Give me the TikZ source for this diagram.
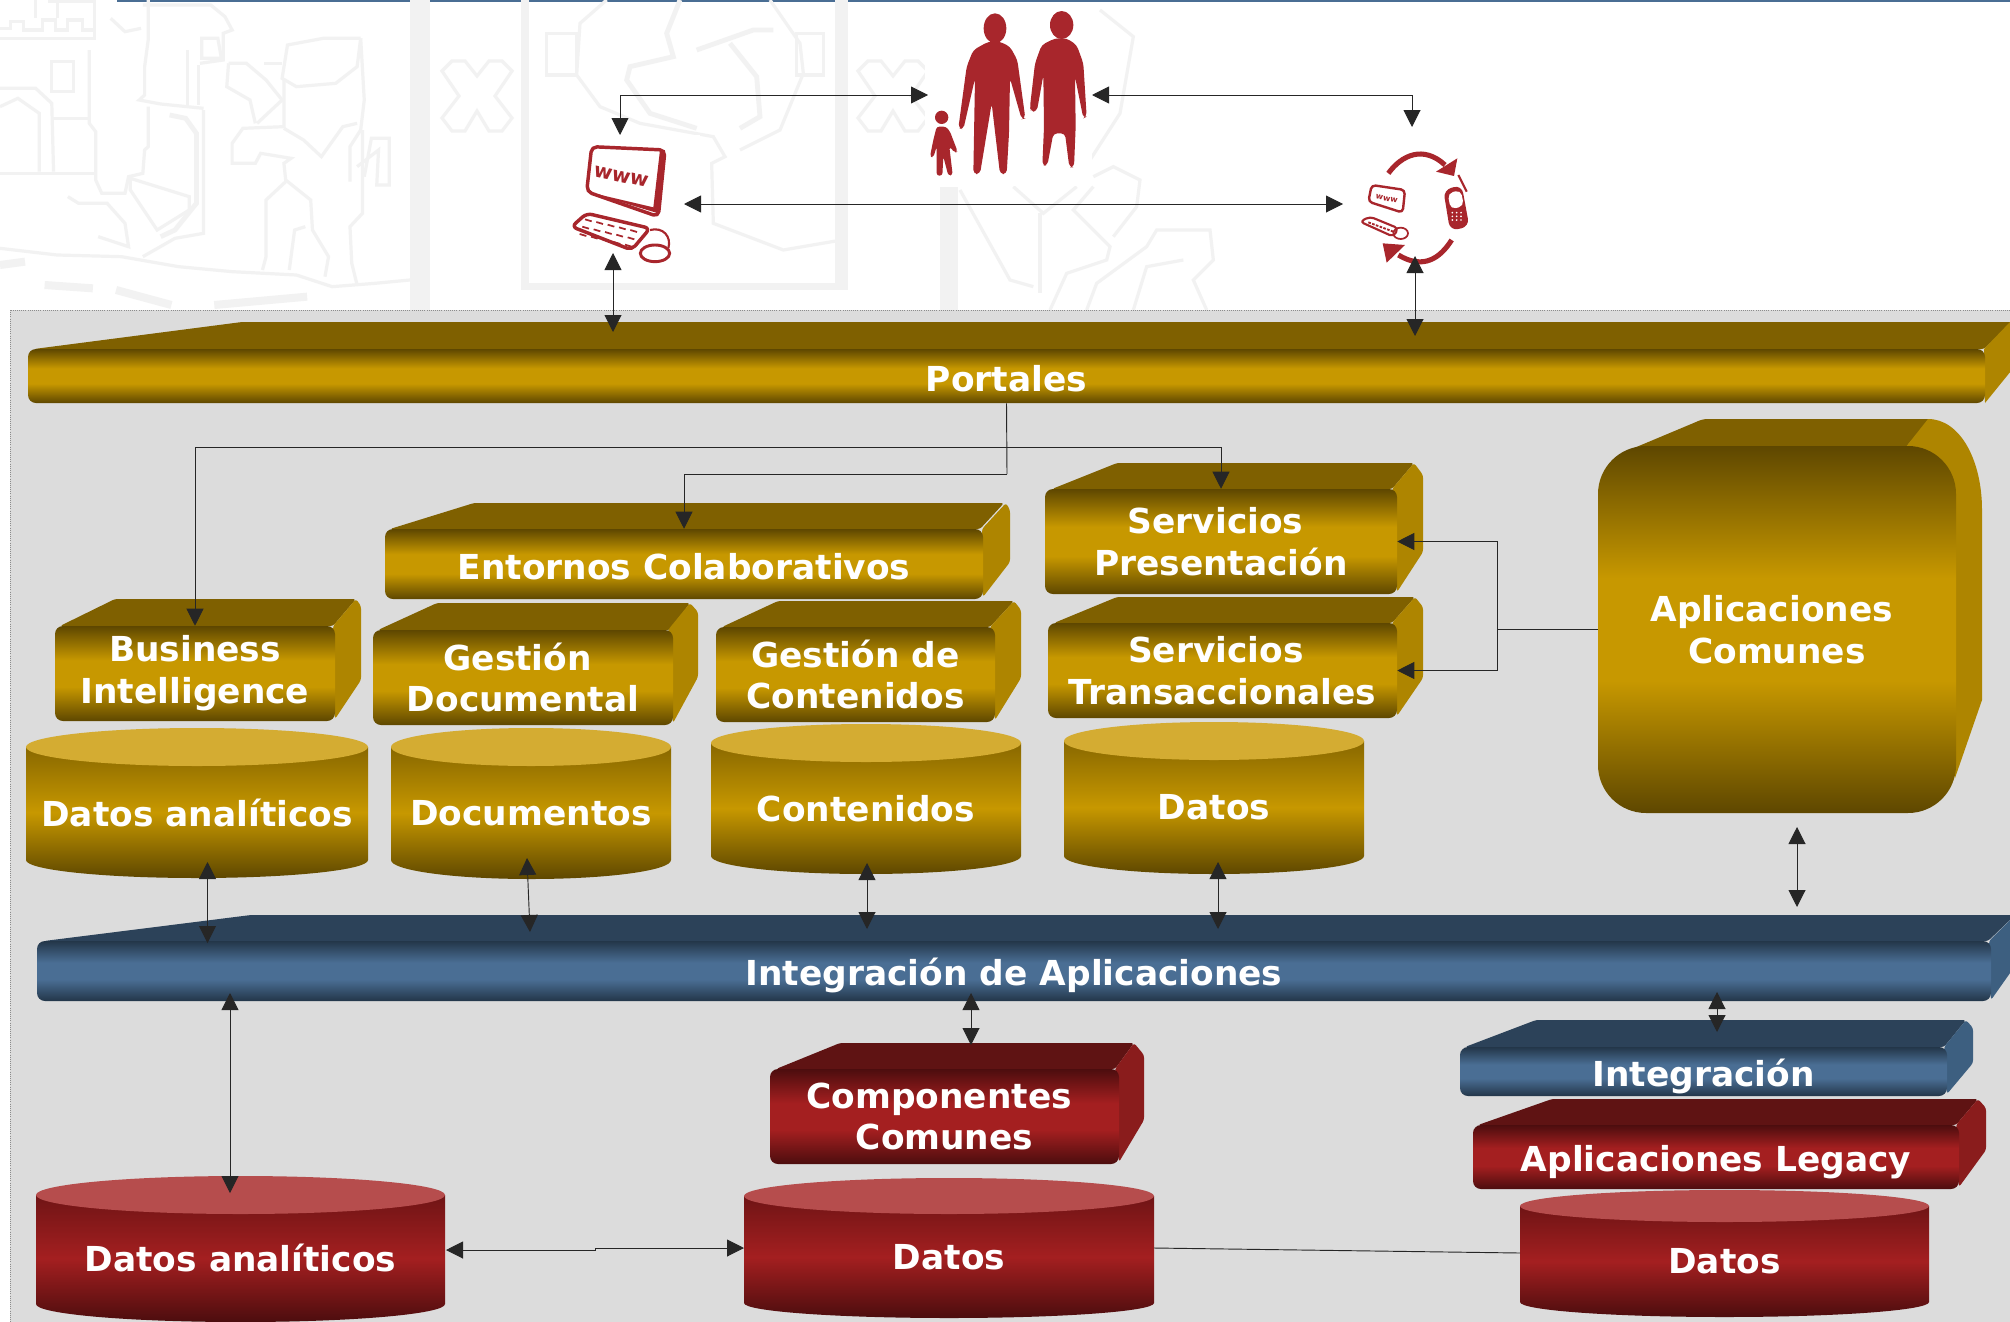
\documentclass[tikz,border=0pt]{standalone}
\usepackage{fontspec}
\setmainfont{DejaVu Sans}
\usepackage{xcolor}
\usetikzlibrary{arrows.meta}
\usetikzlibrary{calc}

\definecolor{golddark}{HTML}{5E4700}
\definecolor{goldmid}{HTML}{C79800}
\definecolor{goldtop}{HTML}{7F6000}
\definecolor{goldside}{HTML}{AE8500}
\definecolor{goldlid}{HTML}{D4AC32}
\definecolor{bluedark}{HTML}{233649}
\definecolor{bluemid}{HTML}{4A6E94}
\definecolor{bluetop}{HTML}{2C4259}
\definecolor{blueside}{HTML}{3D5F80}
\definecolor{reddark}{HTML}{4C0D0E}
\definecolor{redmid}{HTML}{A41F20}
\definecolor{redtop}{HTML}{5F1313}
\definecolor{redside}{HTML}{8A1C1C}
\definecolor{redlid}{HTML}{B64D4D}
\definecolor{iconred}{HTML}{A8262C}
\definecolor{paneltone}{HTML}{DCDCDC}
\definecolor{watertone}{HTML}{F2F2F2}

\pgfdeclareverticalshading{goldband}{100bp}{color(0bp)=(golddark); color(25bp)=(golddark); color(43bp)=(goldmid); color(57bp)=(goldmid); color(75bp)=(golddark); color(100bp)=(golddark)}
\pgfdeclareverticalshading{blueband}{100bp}{color(0bp)=(bluedark); color(25bp)=(bluedark); color(43bp)=(bluemid); color(57bp)=(bluemid); color(75bp)=(bluedark); color(100bp)=(bluedark)}
\pgfdeclareverticalshading{redband}{100bp}{color(0bp)=(reddark); color(25bp)=(reddark); color(43bp)=(redmid); color(57bp)=(redmid); color(75bp)=(reddark); color(100bp)=(reddark)}

\tikzset{
  labeltext/.style={text=white,font=\fontsize{25.8}{31.3}\selectfont\bfseries,align=center,inner sep=0pt},
  goldbox/.style={labeltext,rounded corners=6pt,shade,shading=goldband,execute at begin node={\rule{0pt}{23.4pt}}},
  bluebox/.style={labeltext,rounded corners=6pt,shade,shading=blueband,execute at begin node={\rule{0pt}{27.3pt}}},
  redbox/.style={labeltext,rounded corners=6pt,shade,shading=redband,execute at begin node={\rule{0pt}{27.3pt}}},
  goldbody/.style={top color=golddark!60!goldmid,bottom color=golddark,middle color=goldmid},
  redbody/.style={top color=reddark!60!redmid,bottom color=reddark,middle color=redmid},
  face/.style={rounded corners=2pt},
  watermark/.style={draw=watertone,line width=2.4pt},
  iconstroke/.style={draw=iconred,line width=2.6pt,line join=round},
  wire/.style={line width=0.7pt,draw=black!85},
  linkone/.style={wire,-{Triangle[length=12.75pt,width=12.75pt]}},
  linkboth/.style={wire,{Triangle[length=12.75pt,width=12.75pt]}-{Triangle[length=12.75pt,width=12.75pt]}}
}

\begin{document}
\begin{tikzpicture}[x=0.75pt,y=0.75pt,yscale=-1,xscale=1]
\useasboundingbox (0,0) rectangle (2010,1321);
\clip (0,0) rectangle (2010,1321);
\fill[white] (0,0) rectangle (2010,1321);
\fill[bluemid] (117,0) rectangle (2010,1.5);

%Watermark, castle and lion
\begin{scope}[xscale=1/2.8,yscale=1/3]
\draw[watermark] (0,115) -- (265,115) -- (265,0);
\draw[watermark] (0,85) -- (30,85) -- (30,65) -- (65,65) -- (65,90) -- (120,90) -- (120,60) -- (155,60) -- (155,90) -- (190,90) -- (190,60) -- (230,60) -- (230,90) -- (262,90);
\draw[watermark] (100,0) -- (100,55); \draw[watermark] (160,5) -- (160,55); \draw[watermark] (135,3) -- (270,3);
\draw[watermark] (250,150) -- (250,370) -- (268,395) -- (268,540) -- (285,580) -- (350,580) -- (360,530) -- (400,520) -- (405,450) -- (415,440) -- (415,320);
\draw[watermark] (145,185) rectangle (205,275);
\draw[watermark] (0,265) -- (100,265) -- (145,310) -- (150,515);
\draw[watermark] (0,320) -- (50,295) -- (110,340) -- (110,515);
\draw[watermark] (150,355) -- (250,355);
\draw[watermark] (0,520) -- (270,520);
\draw[watermark] (415,0) -- (415,120) -- (405,200) -- (405,285) -- (390,300) -- (450,312) -- (570,325);
\draw[watermark] (525,150) -- (525,315); \draw[watermark] (555,195) -- (555,315);
\draw[watermark] (310,55) -- (350,95) -- (395,85);
\draw[watermark] (400,15) -- (590,15) -- (630,50) -- (650,90) -- (625,100) -- (625,180) -- (560,190);
\draw[watermark] (565,115) -- (610,115) -- (620,175) -- (565,175) -- cycle;
\draw[watermark,line width=3.6pt] (475,345) -- (520,355) -- (550,400) -- (550,610) -- (490,690) -- (450,710);
\draw[watermark] (570,330) -- (570,700) -- (490,715) -- (400,770);
\draw[watermark] (190,590) -- (220,610) -- (300,610) -- (350,670) -- (360,740) -- (275,710);
\draw[watermark] (365,535) -- (530,590) -- (530,630) -- (440,690) -- (365,570) -- cycle;
\draw[watermark] (0,745) -- (160,765) -- (340,770) -- (500,800) -- (650,815) -- (830,825) -- (930,860) -- (1050,850) -- (1148,840);
\draw[watermark,line width=6pt] (0,795) -- (70,785);
\draw[watermark,line width=6pt] (125,855) -- (260,865);
\draw[watermark,line width=6pt] (325,870) -- (480,915);
\draw[watermark,line width=6pt] (600,915) -- (860,890);
\draw[watermark] (1010,115) -- (905,115) -- (805,135) -- (790,235) -- (830,260) -- (940,250) -- (1000,200) -- (1010,115);
\draw[watermark] (1010,115) -- (1020,300) -- (1010,390) -- (980,440) -- (980,545);
\draw[watermark] (740,190) -- (790,190);
\draw[watermark] (795,240) -- (795,380) -- (680,385) -- (650,430) -- (650,490) -- (715,490) -- (730,460) -- (815,475) -- (795,490) -- (800,540) -- (870,600) -- (875,690) -- (920,770) -- (910,830);
\draw[watermark] (640,190) -- (690,190) -- (745,240) -- (790,300) -- (720,370);
\draw[watermark] (640,190) -- (635,260) -- (700,300) -- (715,370);
\draw[watermark] (1015,390) -- (1015,640) -- (980,680) -- (985,790) -- (1000,855);
\draw[watermark] (795,385) -- (850,420) -- (900,470) -- (960,380) -- (1000,370);
\draw[watermark] (1020,530) -- (1040,415) -- (1090,415) -- (1090,555) -- (1055,555) -- (1060,450) -- (1000,500);
\draw[watermark] (800,545) -- (745,600) -- (745,770) -- (735,810);
\draw[watermark] (810,810) -- (825,690) -- (855,680); 
\fill[watertone] (1148,0) rectangle (1203,930);
\end{scope}

%Watermark, frame and shield
\fill[watertone] (521,0) rectangle (529,290);
\fill[watertone] (521,283) rectangle (848,290);
\fill[watertone] (835,0) rectangle (848,290);
\foreach \xmark in {477,893}
  \draw[watermark,shift={(\xmark,96)}] (-35,-25) -- (-25,-35) -- (-12,-35) -- (0,-20) -- (12,-35) -- (25,-35) -- (35,-25) -- (18,0) -- (35,22) -- (25,35) -- (12,35) -- (0,15) -- (-12,35) -- (-25,35) -- (-35,22) -- (-18,0) -- cycle;
\begin{scope}[shift={(540,0)},scale=1/3]
\draw[watermark] (20,100) rectangle (110,225);
\draw[watermark] (770,100) rectangle (850,225);
\draw[watermark] (200,0) -- (120,70) -- (110,225) -- (180,320) -- (300,370) -- (520,410) -- (555,470) -- (515,490) -- (520,670) -- (730,750) -- (905,720);
\draw[watermark] (690,0) -- (780,130) -- (790,220) -- (720,390) -- (600,450);
\draw[watermark,line width=3.6pt] (420,0) -- (380,100) -- (400,170) -- (270,200) -- (260,240) -- (330,340) -- (470,385);
\draw[watermark,line width=3.6pt] (470,150) -- (640,90) -- (700,90);
\draw[watermark,line width=3.6pt] (570,130) -- (650,230) -- (660,350) -- (600,385);
\end{scope}

%Watermark, leaves
\begin{scope}[shift={(900,170)},scale=1/3]
\fill[watertone] (120,50) rectangle (175,420);
\draw[watermark] (180,60) -- (330,330) -- (400,350);
\draw[watermark] (340,50) -- (430,130) -- (530,50);
\draw[watermark] (420,130) -- (420,370);
\draw[watermark] (580,50) -- (520,120) -- (630,230) -- (620,270) -- (500,310) -- (450,420);
\draw[watermark] (580,20) -- (640,-10) -- (720,30) -- (710,110) -- (640,200);
\draw[watermark] (560,420) -- (590,340) -- (740,230) -- (770,180) -- (930,180) -- (940,270) -- (880,330) -- (920,420);
\draw[watermark] (700,420) -- (740,290) -- (850,270);
\draw[watermark] (570,-30) -- (660,-170) -- (700,-400) -- (600,-480);
\end{scope}

%People
\fill[white] (925,3) rectangle (1092,186);
\begin{scope}[shift={(910,0)},scale=1/3]
\fill[iconred] (255,85) ellipse [x radius=34,y radius=45];
\fill[iconred,rounded corners=3pt] (235,125) -- (190,150) -- (170,200) -- (145,385) -- (160,388) -- (195,235) -- (190,522) -- (210,522) -- (245,310) -- (270,522) -- (290,522) -- (297,400) -- (300,235) -- (335,358) -- (346,355) -- (322,180) -- (300,140) -- (270,125) -- cycle;
\fill[iconred] (455,75) ellipse [x radius=35,y radius=42];
\fill[iconred,rounded corners=3pt] (435,115) -- (395,135) -- (375,190) -- (360,320) -- (362,335) -- (380,335) -- (385,310) -- (400,225) -- (402,380) -- (397,497) -- (412,497) -- (430,400) -- (465,400) -- (478,502) -- (492,502) -- (497,380) -- (495,230) -- (520,355) -- (530,350) -- (520,190) -- (500,135) -- (470,115) -- cycle;
\fill[iconred] (95,352) circle [radius=20];
\fill[iconred,rounded corners=2pt] (80,380) -- (70,420) -- (60,470) -- (70,472) -- (80,440) -- (80,527) -- (97,527) -- (100,470) -- (115,527) -- (128,525) -- (118,440) -- (135,458) -- (143,455) -- (120,395) -- (108,380) -- cycle;
\end{scope}

%Computer
\fill[white] (555,135) rectangle (700,282);
\begin{scope}[shift={(540,0)},scale=1/3]
\draw[iconstroke,rounded corners=4pt] (155,440) -- (375,450) -- (355,650) -- (140,575) -- cycle;
\fill[iconred] (140,575) -- (355,640) -- (375,450) -- (360,450) -- (340,622) -- cycle;
\node (wwwtext) [text=iconred,font=\fontsize{15}{15}\selectfont\bfseries,rotate=-12,inner sep=0pt] at (243,530) {www};
\draw[iconstroke,rounded corners=4pt] (95,680) -- (140,640) -- (330,685) -- (275,750) -- cycle;
\foreach \row in {0,1,2} \foreach \col in {0,1,2,3,4}
  \draw[iconred,line width=1.3pt] ({135+\col*34-\row*8},{658+\col*8+\row*22}) -- ++(20,6);
\draw[iconstroke,line width=1.6pt] (330,690) .. controls (370,680) and (395,710) .. (385,745);
\draw[iconstroke,line width=2.2pt] (345,760) ellipse [x radius=44,y radius=25];
\end{scope}

%Mobile exchange
\fill[white] (1350,140) rectangle (1480,275);
\begin{scope}[shift={(1330,130)},scale=1/3]
\draw[iconstroke,line width=3.8pt] (175,130) .. controls (215,75) and (280,45) .. (345,105);
\fill[iconred] (382,85) -- (372,138) -- (318,125) -- cycle;
\draw[iconstroke,line width=1.8pt,rounded corners=3pt] (125,165) -- (225,180) -- (218,248) -- (115,215) -- cycle;
\node (wwwsmall) [text=iconred,font=\fontsize{6}{6}\selectfont\bfseries,rotate=-12,inner sep=0pt] at (170,207) {www};
\draw[iconstroke,line width=1.6pt,rounded corners=3pt] (90,275) -- (120,260) -- (205,295) -- (190,320) -- cycle;
\draw[iconred,line width=1.4pt,dash pattern=on 2pt off 1pt] (115,277) -- (190,305);
\draw[iconstroke,line width=1.3pt] (212,310) ellipse [x radius=22,y radius=17];
\fill[iconred,rounded corners=6pt] (340,180) -- (395,165) -- (418,290) -- (360,302) -- cycle;
\fill[white,rounded corners=4pt] (353,190) -- (392,180) -- (402,228) -- (362,238) -- cycle;
\draw[iconstroke,line width=1.6pt] (385,135) -- (410,185);
\foreach \row in {0,1,2} \foreach \col in {0,1,2}
  \fill[white] ({367+\col*13},{248+\row*11}) circle [radius=2.8];
\draw[iconstroke,line width=3.8pt] (365,330) .. controls (330,385) and (280,420) .. (205,375);
\fill[iconred] (158,340) -- (225,345) -- (170,398) -- cycle;
\end{scope}

%Panel
\draw[draw=black!45,densely dotted,line width=0.6pt,fill=paneltone] (10,310) rectangle (2020,1330);

%Gold faces
\fill[goldtop,face] (34,349) -- (242,322) -- (2012,322) -- (1984,349) -- cycle;
\fill[goldside] (1984,349) -- (2010,322) -- (2015,322) -- (2015,366) -- (1985,403) -- cycle;
\fill[goldtop,face] (390,529) -- (474,503) -- (1004,503) -- (980,529) -- cycle;
\fill[goldside,face] (982,529) -- (1006,503) -- (1010,510) -- (1010,562) -- (983,597) -- cycle;
\fill[goldtop,face] (60,626) -- (115,599) -- (356,599) -- (333,626) -- cycle;
\fill[goldside,face] (333,626) -- (356,599) -- (361,606) -- (361,680) -- (335,719) -- cycle;
\fill[goldtop,face] (378,630) -- (437,603) -- (690,603) -- (670,630) -- cycle;
\fill[goldside,face] (668,630) -- (690,603) -- (698,612) -- (698,677) -- (673,723) -- cycle;
\fill[goldtop,face] (722,627) -- (778,601) -- (1014,601) -- (990,627) -- cycle;
\fill[goldside,face] (990,627) -- (1014,601) -- (1021,610) -- (1021,678) -- (995,720) -- cycle;
\fill[goldtop,face] (1052,489) -- (1117,463) -- (1414,463) -- (1392,489) -- cycle;
\fill[goldside,face] (1392,489) -- (1414,463) -- (1423,475) -- (1423,552) -- (1397,592) -- cycle;
\fill[goldtop,face] (1054,623) -- (1117,597) -- (1415,597) -- (1392,623) -- cycle;
\fill[goldside,face] (1392,623) -- (1415,597) -- (1423,607) -- (1423,678) -- (1397,716) -- cycle;
\fill[goldtop] (1634,448) -- (1696,422) .. controls (1700,420) and (1704,419) .. (1708,419) -- (1930,419) -- (1905,448) -- cycle;
\fill[goldside] (1905,448) -- (1928,419) .. controls (1960,419) and (1982,460) .. (1982,510) -- (1982,700) -- (1955,778) -- cycle;

%Blue faces
\fill[bluetop,face] (44,941) -- (251,915) -- (2015,915) -- (1988,941) -- cycle;
\fill[blueside,face] (1989,941) -- (2015,915) -- (2015,966) -- (1991,1000) -- cycle;
\fill[bluetop,face] (1465,1047) -- (1536,1020) -- (1966,1020) -- (1944,1047) -- cycle;
\fill[blueside,face] (1944,1047) -- (1966,1020) -- (1973,1028) -- (1973,1063) -- (1947,1094) -- cycle;

%Red faces
\fill[redtop,face] (776,1069) -- (840,1043) -- (1134,1043) -- (1115,1069) -- cycle;
\fill[redside,face] (1115,1069) -- (1134,1043) -- (1144,1055) -- (1144,1120) -- (1119,1162) -- cycle;
\fill[redtop,face] (1478,1125) -- (1552,1099) -- (1978,1099) -- (1956,1125) -- cycle;
\fill[redside,face] (1956,1125) -- (1978,1099) -- (1986,1108) -- (1986,1150) -- (1959,1187) -- cycle;

%Gold cylinders
\shade[goldbody] (26,747) -- (26,860) arc [start angle=180,end angle=0,x radius=171,y radius=18] -- (368,747) -- cycle;
\fill[goldlid] (197,747) ellipse [x radius=171,y radius=19];
\shade[goldbody] (391,747) -- (391,860) arc [start angle=180,end angle=0,x radius=140,y radius=19] -- (671,747) -- cycle;
\fill[goldlid] (531,747) ellipse [x radius=140,y radius=19];
\shade[goldbody] (711,743) -- (711,856) arc [start angle=180,end angle=0,x radius=155,y radius=18] -- (1021,743) -- cycle;
\fill[goldlid] (866,743) ellipse [x radius=155,y radius=19];
\shade[goldbody] (1064,741) -- (1064,856) arc [start angle=180,end angle=0,x radius=150,y radius=18] -- (1364,741) -- cycle;
\fill[goldlid] (1214,741) ellipse [x radius=150,y radius=19];

%Red cylinders
\shade[redbody] (36,1195) -- (36,1304) arc [start angle=180,end angle=0,x radius=204.5,y radius=18] -- (445,1195) -- cycle;
\fill[redlid] (240.5,1195) ellipse [x radius=204.5,y radius=19];
\shade[redbody] (744,1196) -- (744,1303) arc [start angle=180,end angle=0,x radius=205,y radius=15] -- (1154,1196) -- cycle;
\fill[redlid] (949,1196) ellipse [x radius=205,y radius=18];
\shade[redbody] (1520,1206) -- (1520,1302) arc [start angle=180,end angle=0,x radius=204.5,y radius=15] -- (1929,1206) -- cycle;
\fill[redlid] (1724.5,1206) ellipse [x radius=204.5,y radius=16];

% Text Node
\node (portales) [goldbox,minimum width=1467.75pt,minimum height=40.5pt] at (1006.5,376) {Portales};
\node (entornos) [goldbox,minimum width=448.5pt,minimum height=52.5pt] at (684,564) {Entornos Colaborativos};
\node (business) [goldbox,execute at begin node={\rule{0pt}{27.3pt}},minimum width=210pt,minimum height=71.25pt] at (195,673.5) {Business\\Intelligence};
\node (gestiondoc) [goldbox,minimum width=225pt,minimum height=71.25pt] at (523,677.5) {\hspace*{-8pt}Gestión\\Documental};
\node (gestioncont) [goldbox,minimum width=209.25pt,minimum height=71.25pt] at (855.5,674.5) {Gestión de\\Contenidos};
\node (presentacion) [goldbox,minimum width=264pt,minimum height=78.75pt] at (1221,541.5) {\hspace*{-8pt}Servicios\\Presentación};
\node (transaccion) [goldbox,minimum width=261.75pt,minimum height=71.25pt] at (1222.5,670.5) {\hspace*{-10pt}Servicios\\Transaccionales};
\node (comunes) [goldbox,rounded corners=36pt,minimum width=268.5pt,minimum height=275.25pt] at (1777,629.5) {\hspace*{-8pt}Aplicaciones\\Comunes};
\node (bus) [bluebox,minimum width=1465.5pt,minimum height=45pt] at (1014,971) {Integración de Aplicaciones};
\node (integracion) [bluebox,minimum width=365.25pt,minimum height=36.75pt] at (1703.5,1071.5) {Integración};
\node (componentes) [redbox,minimum width=261.75pt,minimum height=71.25pt] at (944.5,1116.5) {\hspace*{-8pt}Componentes\\Comunes};
\node (legacy) [redbox,minimum width=364.5pt,minimum height=48pt] at (1716,1157) {Aplicaciones Legacy};
\node (analiticosoro) [labeltext] at (197,812.5) {Datos analíticos};
\node (documentos) [labeltext] at (531,813) {Documentos};
\node (contenidos) [labeltext] at (866,808.5) {Contenidos};
\node (datosoro) [labeltext] at (1214,807.5) {Datos};
\node (analiticosrojo) [labeltext] at (240.5,1258) {Datos analíticos};
\node (datosrojo) [labeltext] at (949,1257) {Datos};
\node (datoslegacy) [labeltext] at (1724.5,1261.5) {Datos};

%Free ends of the connectors
\coordinate (wwwN) at (620,135);
\coordinate (wwwbend) at (620,95);
\coordinate (peopleW) at (928,95);
\coordinate (peopleE) at (1092,95);
\coordinate (mobilebend) at (1412,95);
\coordinate (mobileN) at (1412,127);
\coordinate (wwwE) at (684,204);
\coordinate (mobileW) at (1343,204);
\coordinate (wwwS) at (613,253);
\coordinate (portalesA) at (613,332);
\coordinate (mobileS) at (1415,256);
\coordinate (portalesB) at (1415,336);
\coordinate (hoplower) at (1007,474);
\coordinate (hopupper) at (1007,447);
\coordinate (hopcomunes) at (1497,629.5);
\coordinate (analiticosS) at (207.5,862);
\coordinate (busA) at (207.5,943);
\coordinate (documentosS) at (527,858);
\coordinate (busB) at (530,932);
\coordinate (contenidosS) at (867,863);
\coordinate (busC) at (867,929);
\coordinate (datosS) at (1218,862);
\coordinate (busD) at (1218,929);
\coordinate (comunesS) at (1797,827);
\coordinate (busE) at (1797,907);
\coordinate (busF) at (230,993);
\coordinate (rojoN) at (230,1193);
\coordinate (busG) at (971,993);
\coordinate (componentesN) at (971,1045);
\coordinate (busH) at (1717,992);
\coordinate (integracionN) at (1717,1032);
\coordinate (rojoE) at (446,1250);
\coordinate (jogleft) at (595,1250);
\coordinate (jogright) at (595,1248);
\coordinate (datosW) at (744,1248);
\coordinate (datosE) at (1154,1248);
\coordinate (legacyW) at (1520,1253);

%Straight Lines
\draw[linkboth] (wwwN) -- (wwwbend) -- (peopleW);
\draw[linkboth] (peopleE) -- (mobilebend) -- (mobileN);
\draw[linkboth] (wwwE) -- (mobileW);
\draw[linkboth] (wwwS) -- (portalesA);
\draw[linkboth] (mobileS) -- (portalesB);
\draw[wire] (portales.south) -- (hoplower);
\draw[linkone] (hoplower) -| (entornos.north);
\draw[linkone] (hopupper) -| (business.north);
\draw[linkone] (hopupper) -| (presentacion.north);
\draw[wire] (comunes.west) -- (hopcomunes);
\draw[linkone] (hopcomunes) |- (presentacion.east);
\draw[linkone] (hopcomunes) |- (transaccion.east);
\draw[linkboth] (analiticosS) -- (busA);
\draw[linkboth] (documentosS) -- (busB);
\draw[linkboth] (contenidosS) -- (busC);
\draw[linkboth] (datosS) -- (busD);
\draw[linkboth] (comunesS) -- (busE);
\draw[linkboth] (busF) -- (rojoN);
\draw[linkboth] (busG) -- (componentesN);
\draw[linkboth] (busH) -- (integracionN);
\draw[linkboth] (rojoE) -- (jogleft) -- (jogright) -- (datosW);
\draw[wire] (datosE) -- (legacyW);
\end{tikzpicture}
\end{document}
